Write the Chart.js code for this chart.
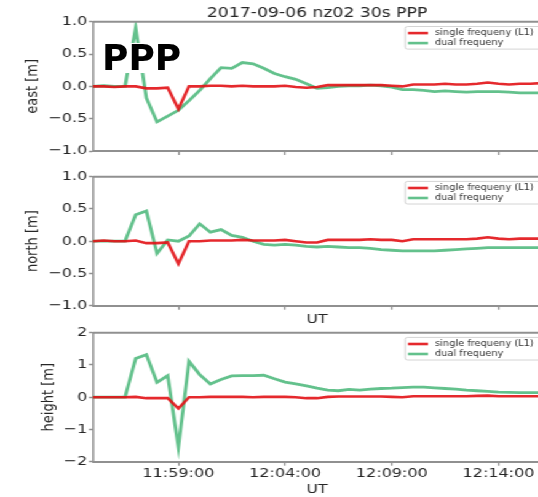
<!DOCTYPE html>
<html>
<head>
<meta charset="utf-8">
<script src="https://cdn.jsdelivr.net/npm/chart.js@4.4.1/dist/chart.umd.min.js"></script>
<style>
  html, body { margin: 0; padding: 0; background: #fff; overflow: hidden; }
  /* the reference figure is stretched sideways, so the whole plot is too */
  #wrap { position: absolute; left: 0; top: 0; width: 440px; height: 497px; transform: scaleX(1.23); transform-origin: 0 0; }
  #wrap canvas { position: absolute; left: 0; }
  #ppp { position: absolute; left: 102px; top: 42.5px; font: bold 36px "DejaVu Sans"; line-height: 30px; background: #fff; color: #000; }
</style>
</head>
<body>
<div id="wrap">
  <canvas id="east" width="440" height="165" style="top:0px"></canvas>
  <canvas id="north" width="440" height="165" style="top:165px"></canvas>
  <canvas id="height" width="440" height="182" style="top:315px"></canvas>
</div>
<div id="ppp">PPP</div>
<script>
const times = ['11:55:00', '11:55:30', '11:56:00', '11:56:30', '11:57:00', '11:57:30', '11:58:00', '11:58:30',
  '11:59:00', '11:59:30', '12:00:00', '12:00:30', '12:01:00', '12:01:30', '12:02:00', '12:02:30',
  '12:03:00', '12:03:30', '12:04:00', '12:04:30', '12:05:00', '12:05:30', '12:06:00', '12:06:30',
  '12:07:00', '12:07:30', '12:08:00', '12:08:30', '12:09:00', '12:09:30', '12:10:00', '12:10:30',
  '12:11:00', '12:11:30', '12:12:00', '12:12:30', '12:13:00', '12:13:30', '12:14:00', '12:14:30',
  '12:15:00', '12:15:30', '12:16:00']
const tickTimes = ['11:59:00', '12:04:00', '12:09:00', '12:14:00']
const seriesNames = ['single frequeny (L1)', 'dual frequeny']

const eastSingle = [0.0, 0.0, -0.01, 0.0, 0.0, -0.03, -0.03, -0.02, -0.35, 0.0, 0.0, 0.01, 0.01, 0.0, 0.01, 0.0,
  0.0, 0.0, 0.01, -0.01, -0.02, -0.01, 0.02, 0.02, 0.02, 0.02, 0.02, 0.02, 0.01, 0.0, 0.03, 0.03,
  0.03, 0.04, 0.03, 0.03, 0.04, 0.06, 0.04, 0.03, 0.04, 0.04, 0.05]
const eastDual = [0.0, 0.01, 0.0, 0.0, 0.9, -0.18, -0.55, -0.46, -0.37, -0.22, -0.06, 0.12, 0.29, 0.28, 0.37, 0.35,
  0.28, 0.2, 0.15, 0.11, 0.04, -0.03, -0.02, 0.0, 0.01, 0.01, 0.02, 0.01, -0.01, -0.05, -0.05, -0.06,
  -0.08, -0.07, -0.08, -0.09, -0.08, -0.08, -0.08, -0.09, -0.1, -0.1, -0.1]

const northSingle = [0.0, 0.01, 0.0, 0.0, 0.01, -0.03, -0.03, -0.02, -0.35, 0.0, 0.0, 0.01, 0.01, 0.01, 0.02, 0.01,
  0.01, 0.01, 0.02, 0.0, -0.02, -0.02, 0.02, 0.02, 0.02, 0.02, 0.03, 0.02, 0.02, 0.0, 0.03, 0.03,
  0.03, 0.03, 0.03, 0.03, 0.04, 0.06, 0.04, 0.03, 0.04, 0.04, 0.04]
const northDual = [0.0, 0.0, 0.0, 0.0, 0.41, 0.47, -0.19, 0.02, 0.0, 0.08, 0.27, 0.14, 0.18, 0.09, 0.06, 0.0,
  -0.05, -0.06, -0.05, -0.06, -0.08, -0.09, -0.08, -0.09, -0.1, -0.1, -0.11, -0.13, -0.14, -0.15, -0.15, -0.15,
  -0.15, -0.14, -0.13, -0.12, -0.11, -0.1, -0.1, -0.1, -0.1, -0.1, -0.1]

const heightSingle = [0.0, 0.0, 0.0, 0.0, 0.01, -0.03, -0.03, -0.03, -0.35, 0.0, 0.0, 0.01, 0.01, 0.01, 0.01, 0.0,
  0.01, 0.01, 0.01, 0.0, -0.03, -0.03, 0.01, 0.02, 0.02, 0.02, 0.02, 0.02, 0.01, 0.0, 0.03, 0.03,
  0.03, 0.03, 0.03, 0.03, 0.04, 0.05, 0.03, 0.03, 0.03, 0.03, 0.03]
const heightDual = [0.0, 0.0, 0.0, 0.0, 1.2, 1.32, 0.46, 0.67, -1.55, 1.11, 0.7, 0.41, 0.55, 0.66, 0.67, 0.67,
  0.68, 0.57, 0.47, 0.41, 0.35, 0.28, 0.22, 0.2, 0.24, 0.22, 0.25, 0.27, 0.28, 0.3, 0.31, 0.31,
  0.29, 0.27, 0.25, 0.22, 0.2, 0.18, 0.16, 0.15, 0.14, 0.14, 0.14]

const FONT = '"DejaVu Sans"'
const TEXT = '#262626'
const AXIS = '#909090'
const RED = 'rgba(226,18,22,0.9)'
const GREEN = 'rgba(72,182,120,0.85)'

// top spine + matplotlib-style legend inside the axes
const frameAndLegend = {
  id: 'frameAndLegend',
  afterDraw(chart) {
    const { ctx, chartArea: a } = chart
    ctx.save()
    ctx.strokeStyle = AXIS
    ctx.lineWidth = 2
    ctx.beginPath()
    ctx.moveTo(a.left, a.top)
    ctx.lineTo(a.right, a.top)
    ctx.stroke()

    const x0 = a.right - 110.7
    const y0 = a.top + 4.7
    ctx.fillStyle = 'rgba(255,255,255,0.85)'
    ctx.strokeStyle = '#d4d4d4'
    ctx.lineWidth = 1
    ctx.beginPath()
    if (ctx.roundRect) ctx.roundRect(x0, y0, 130, 22.6, 2)
    else ctx.rect(x0, y0, 130, 22.6)
    ctx.fill()
    ctx.stroke()

    chart.data.datasets.forEach((ds, k) => {
      const y = a.top + 11.3 + k * 10
      ctx.strokeStyle = ds.borderColor
      ctx.lineWidth = 2.6
      ctx.beginPath()
      ctx.moveTo(x0 + 2.4, y)
      ctx.lineTo(x0 + 18.7, y)
      ctx.stroke()
      ctx.fillStyle = '#333'
      ctx.font = '8px ' + FONT
      ctx.textBaseline = 'middle'
      ctx.textAlign = 'left'
      ctx.fillText(ds.label, x0 + 24.4, y)
    })
    ctx.restore()
  }
}

function fmt(value, decimals) {
  return value.toFixed(decimals).replace('-', '\u2212')
}

function makePanel(id, p) {
  return new Chart(document.getElementById(id), {
    type: 'line',
    data: {
      labels: times,
      datasets: [
        { label: seriesNames[0], data: p.single, borderColor: RED, borderWidth: 2.6 },
        { label: seriesNames[1], data: p.dual, borderColor: GREEN, borderWidth: 2.8 }
      ]
    },
    options: {
      responsive: false,
      animation: false,
      devicePixelRatio: 1,
      elements: { point: { radius: 0 }, line: { tension: 0 } },
      layout: { padding: { left: p.padLeft, top: p.padTop, right: 0, bottom: 0 } },
      plugins: {
        legend: { display: false },
        tooltip: { enabled: false },
        title: {
          display: !!p.title,
          text: p.title || '',
          fullSize: false,
          color: TEXT,
          font: { family: FONT, size: 14, weight: 'normal' },
          padding: { top: 5, bottom: 0 }
        }
      },
      scales: {
        x: {
          type: 'category',
          offset: false,
          grid: { display: true, drawOnChartArea: false, drawTicks: true, tickLength: 4, tickColor: AXIS, tickWidth: 1.3 },
          border: { display: true, color: AXIS, width: 2 },
          ticks: { display: p.xTicks, autoSkip: false, maxRotation: 0, padding: 0, color: TEXT, font: { family: FONT, size: 13 } },
          title: { display: p.xTitle, text: 'UT', color: TEXT, font: { family: FONT, size: 13 }, padding: { top: 0, bottom: p.xTitlePad } },
          afterBuildTicks: s => { s.ticks = s.ticks.filter(t => tickTimes.includes(times[t.value])) },
          afterFit: s => { s.height = p.xHeight }
        },
        y: {
          min: p.yMin,
          max: p.yMax,
          grid: { display: true, drawOnChartArea: false, drawTicks: true, tickLength: 3.3, tickColor: AXIS, tickWidth: 1.5 },
          border: { display: true, color: AXIS, width: 1.6 },
          ticks: { stepSize: p.yStep, padding: 1.3, color: TEXT, font: { family: FONT, size: 13 }, callback: v => fmt(v, p.yDecimals) },
          title: { display: true, text: p.yLabel, color: TEXT, font: { family: FONT, size: 13 }, padding: 0 },
          afterFit: s => { s.width = p.yWidth }
        }
      }
    },
    plugins: [frameAndLegend]
  })
}

makePanel('east', {
  single: eastSingle, dual: eastDual, title: '2017-09-06 nz02 30s PPP',
  yLabel: 'east [m]', yMin: -1, yMax: 1, yStep: 0.5, yDecimals: 1,
  padLeft: 19, padTop: 0, yWidth: 56.6, xHeight: 14, xTicks: false, xTitle: false, xTitlePad: 0
})
makePanel('north', {
  single: northSingle, dual: northDual,
  yLabel: 'north [m]', yMin: -1, yMax: 1, yStep: 0.5, yDecimals: 1,
  padLeft: 19, padTop: 11.7, yWidth: 56.6, xHeight: 24.3, xTicks: false, xTitle: true, xTitlePad: 2.7
})
makePanel('height', {
  single: heightSingle, dual: heightDual,
  yLabel: 'height [m]', yMin: -2, yMax: 2, yStep: 1, yDecimals: 0,
  padLeft: 32.2, padTop: 17.7, yWidth: 43.4, xHeight: 35.3, xTicks: true, xTitle: true, xTitlePad: 0
})
</script>
</body>
</html>
